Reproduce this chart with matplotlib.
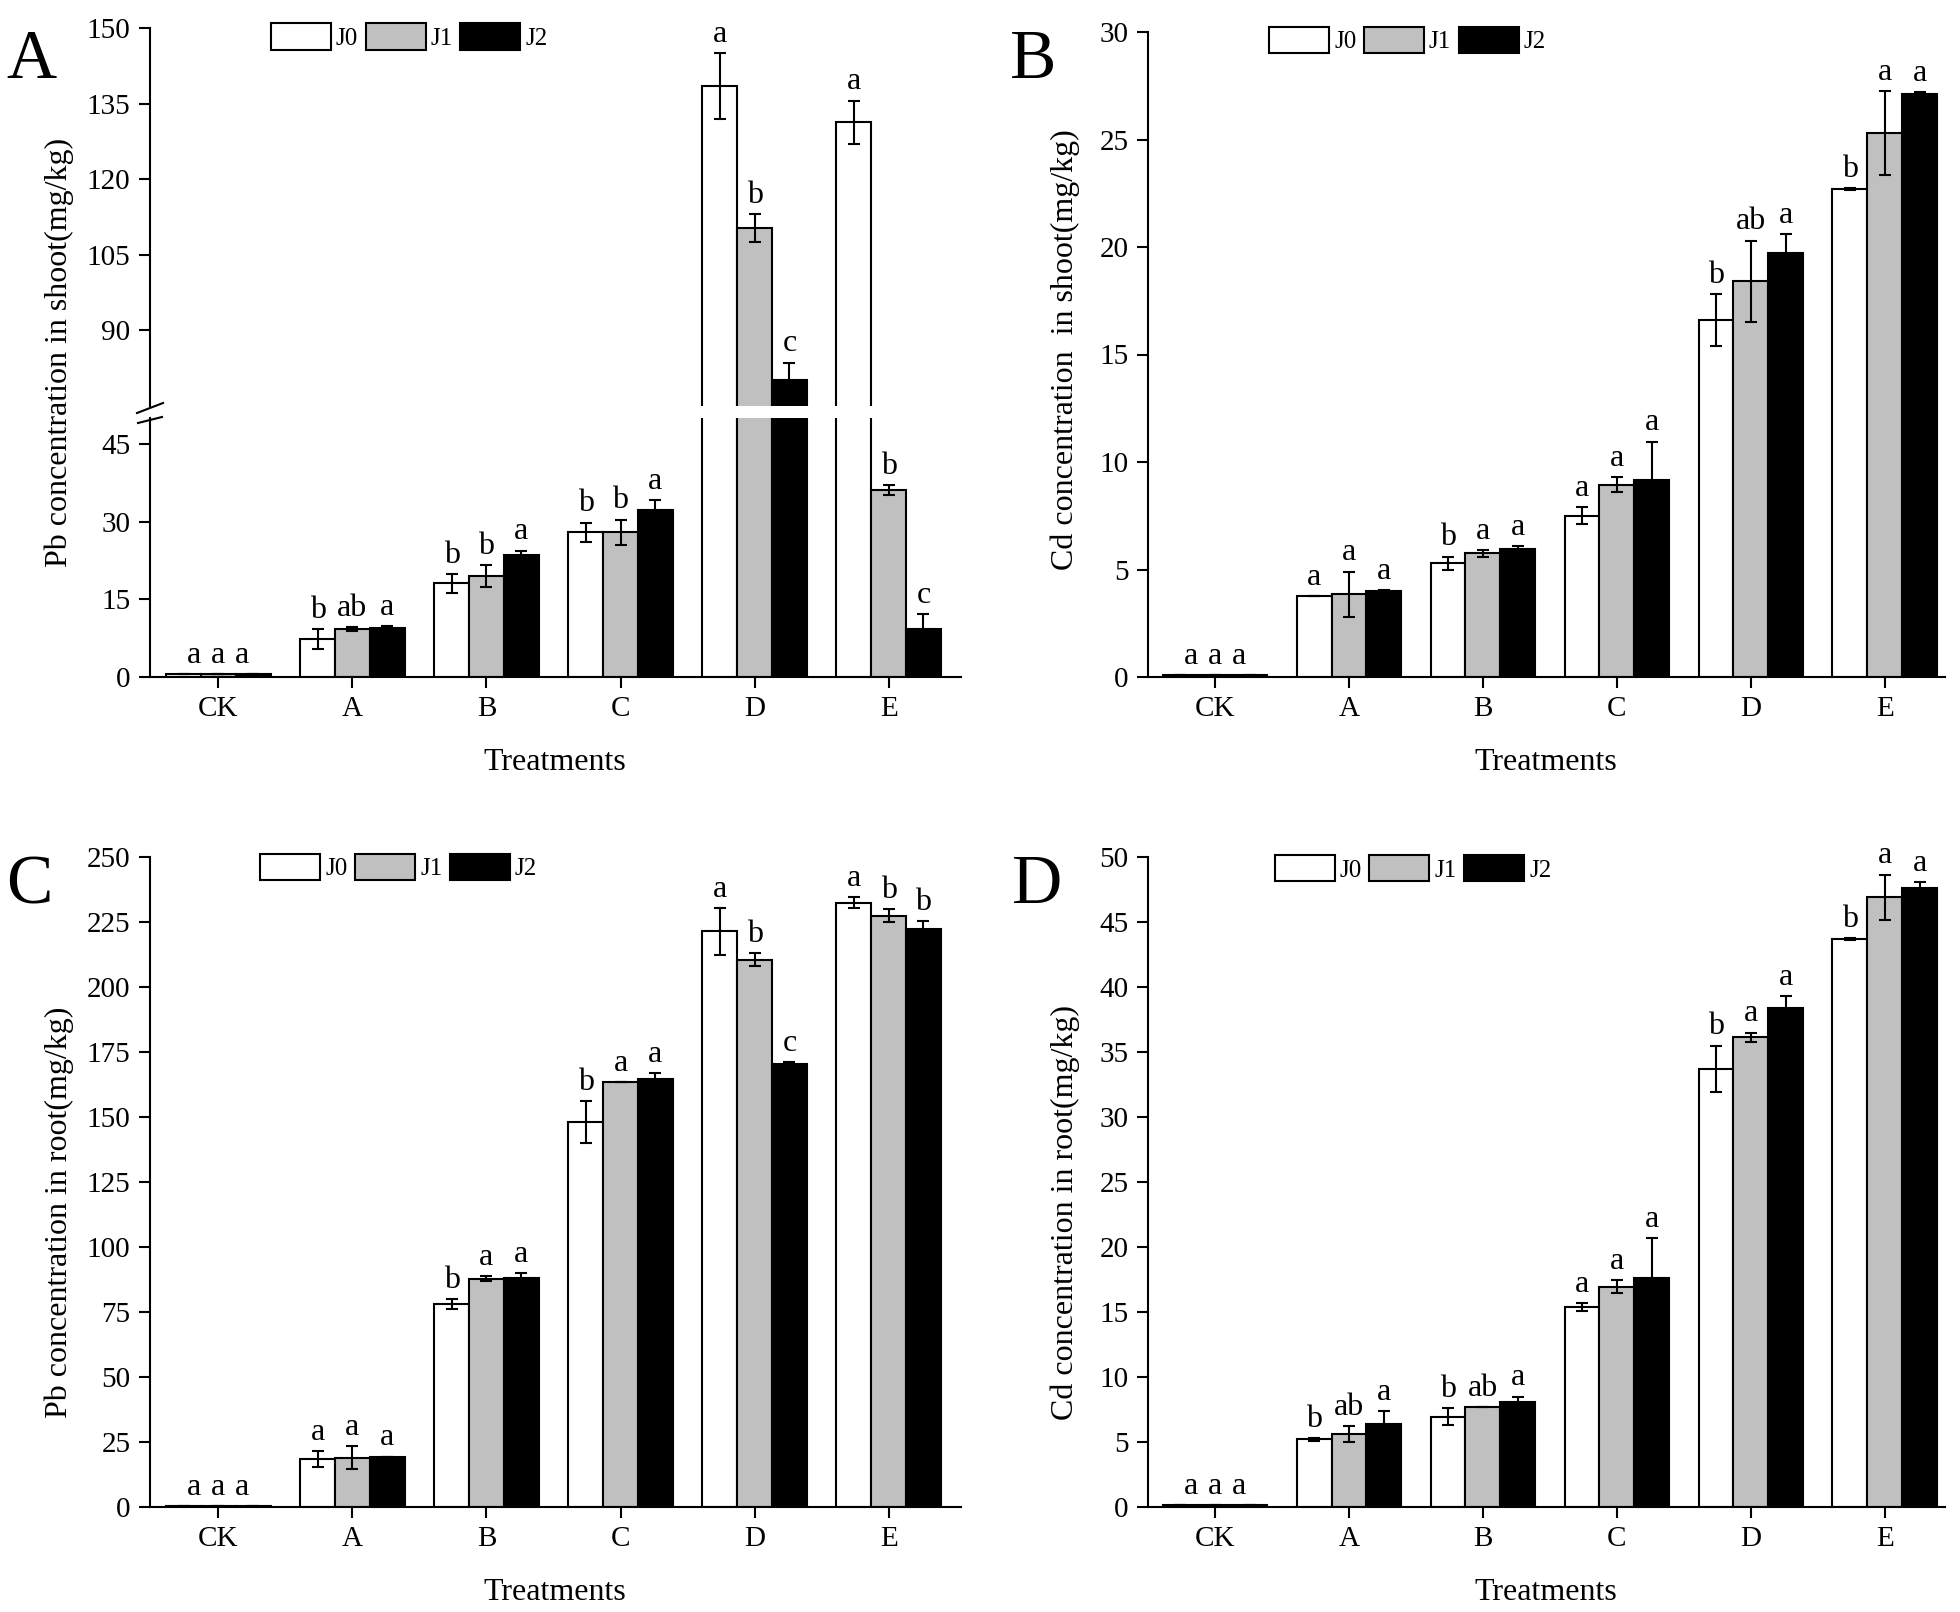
import numpy as np
import matplotlib.pyplot as plt
from matplotlib.patches import Patch
from matplotlib.lines import Line2D

plt.rcParams['font.family'] = ['Liberation Serif', 'DejaVu Serif']

treatments = ['CK', 'A', 'B', 'C', 'D', 'E']
groups = ['J0', 'J1', 'J2']
colors = ['white', '#c0c0c0', 'black']

# Pb concentration in shoot (A)
pb_shoot_mean = [[0.5, 7.4, 18.1, 27.9, 138.5, 131.3],
                 [0.5, 9.2, 19.5, 27.9, 110.3, 36.1],
                 [0.5, 9.5, 23.5, 32.3, 80.2, 9.3]]
pb_shoot_err = [[0, 1.9, 1.8, 1.9, 6.6, 4.3],
                [0, 0.4, 2.1, 2.5, 2.8, 0.9],
                [0, 0.3, 0.9, 1.9, 3.4, 2.9]]
pb_shoot_sig = [['a', 'b', 'b', 'b', 'a', 'a'],
                ['a', 'ab', 'b', 'b', 'b', 'b'],
                ['a', 'a', 'a', 'a', 'c', 'c']]

# Cd concentration in shoot (B)
cd_shoot_mean = [[0.1, 3.75, 5.3, 7.5, 16.6, 22.7],
                 [0.1, 3.85, 5.75, 8.95, 18.4, 25.3],
                 [0.1, 4.0, 5.95, 9.15, 19.7, 27.1]]
cd_shoot_err = [[0, 0, 0.3, 0.4, 1.2, 0.05],
                [0, 1.05, 0.15, 0.35, 1.9, 1.95],
                [0, 0.05, 0.15, 1.8, 0.9, 0.1]]
cd_shoot_sig = [['a', 'a', 'b', 'a', 'b', 'b'],
                ['a', 'a', 'a', 'a', 'ab', 'a'],
                ['a', 'a', 'a', 'a', 'a', 'a']]

# Pb concentration in root (C)
pb_root_mean = [[0.5, 18.4, 78.0, 148.0, 221.5, 232.5],
                [0.5, 19.0, 87.8, 163.5, 210.5, 227.5],
                [0.5, 19.4, 88.0, 164.8, 170.5, 222.5]]
pb_root_err = [[0, 3.0, 2.0, 8.0, 9.0, 2.0],
               [0, 4.3, 1.0, 0, 2.5, 2.5],
               [0, 0, 2.0, 2.0, 0.7, 3.0]]
pb_root_sig = [['a', 'a', 'b', 'b', 'a', 'a'],
               ['a', 'a', 'a', 'a', 'b', 'b'],
               ['a', 'a', 'a', 'a', 'c', 'b']]

# Cd concentration in root (D)
cd_root_mean = [[0.15, 5.2, 6.95, 15.4, 33.7, 43.7],
                [0.15, 5.6, 7.7, 16.95, 36.15, 46.9],
                [0.15, 6.35, 8.05, 17.6, 38.35, 47.6]]
cd_root_err = [[0, 0.1, 0.65, 0.3, 1.8, 0.05],
               [0, 0.6, 0, 0.5, 0.35, 1.75],
               [0, 1.0, 0.45, 3.1, 0.95, 0.45]]
cd_root_sig = [['a', 'b', 'b', 'a', 'b', 'b'],
               ['a', 'ab', 'ab', 'a', 'a', 'a'],
               ['a', 'a', 'a', 'a', 'a', 'a']]

W, H = 1960, 1612
width = 0.26
x = np.arange(len(treatments))


def box(x0, y0, x1, y1):
    # pixel box -> figure fraction
    return [x0 / W, 1 - y1 / H, (x1 - x0) / W, (y1 - y0) / H]


def draw_bars(ax, means, errs):
    for i in range(3):
        xs = x + (i - 1) * width
        ax.bar(xs, means[i], width, color=colors[i], edgecolor='black', linewidth=1.5, zorder=2)
        ax.errorbar(xs, means[i], yerr=errs[i], fmt='none', ecolor='black',
                    elinewidth=1.5, capsize=4, capthick=1.5, zorder=3)


def draw_letters(ax, means, errs, sig, limit=None, ax_hi=None):
    for i in range(3):
        for j in range(len(treatments)):
            top = means[i][j] + errs[i][j]
            target = ax
            if limit is not None and top > limit:
                target = ax_hi
            # the CK letters sit closer together in the original
            step = 0.18 if j == 0 else width
            target.annotate(sig[i][j], (x[j] + (i - 1) * step, top), xytext=(0, 3),
                            textcoords='offset points', ha='center', va='bottom', fontsize=23)


def style(ax, ylim, yticks, xlim):
    ax.set_ylim(ylim)
    ax.set_yticks(yticks)
    ax.set_xlim(xlim)
    ax.set_xticks(x)
    ax.set_xticklabels(treatments)
    for s in ['top', 'right']:
        ax.spines[s].set_visible(False)
    for s in ['left', 'bottom']:
        ax.spines[s].set_linewidth(1.5)
    ax.tick_params(direction='out', length=8, width=1.5, labelsize=21, pad=6)


def add_legend(ax, bx, by):
    handles = [Patch(facecolor=c, edgecolor='black', linewidth=1.5) for c in colors]
    ax.legend(handles, groups, loc='upper left', bbox_to_anchor=(bx, by), ncol=3,
              frameon=False, fontsize=18, handlelength=2.4, handleheight=1.25,
              handletextpad=0.2, columnspacing=0.3, borderpad=0, borderaxespad=0)


fig = plt.figure(figsize=(W / 100, H / 100), dpi=100)

# A: broken axis
ax_a_lo = fig.add_axes(box(150, 418, 961, 677))
ax_a_hi = fig.add_axes(box(150, 28, 961, 406))
for ax in [ax_a_lo, ax_a_hi]:
    draw_bars(ax, pb_shoot_mean, pb_shoot_err)
style(ax_a_lo, (0, 50), [0, 15, 30, 45], (-0.51, 5.54))
style(ax_a_hi, (75, 150), [90, 105, 120, 135, 150], (-0.51, 5.54))
ax_a_hi.spines['bottom'].set_visible(False)
ax_a_hi.tick_params(axis='x', bottom=False, labelbottom=False)
draw_letters(ax_a_lo, pb_shoot_mean, pb_shoot_err, pb_shoot_sig, limit=48, ax_hi=ax_a_hi)
add_legend(ax_a_hi, 0.149, 1.013)
for (x0, y0, x1, y1) in [(137, 413, 163, 403), (138, 423, 162, 417)]:
    fig.add_artist(Line2D([x0 / W, x1 / W], [1 - y0 / H, 1 - y1 / H],
                          transform=fig.transFigure, color='black', linewidth=1.5))

# B
ax_b = fig.add_axes(box(1148, 32, 1945, 677))
draw_bars(ax_b, cd_shoot_mean, cd_shoot_err)
style(ax_b, (0, 30), [0, 5, 10, 15, 20, 25, 30], (-0.5, 5.45))
draw_letters(ax_b, cd_shoot_mean, cd_shoot_err, cd_shoot_sig)
add_legend(ax_b, 0.152, 1.008)

# C
ax_c = fig.add_axes(box(150, 857, 961, 1507))
draw_bars(ax_c, pb_root_mean, pb_root_err)
style(ax_c, (0, 250), np.arange(0, 251, 25), (-0.51, 5.54))
draw_letters(ax_c, pb_root_mean, pb_root_err, pb_root_sig)
add_legend(ax_c, 0.136, 1.005)

# D
ax_d = fig.add_axes(box(1148, 857, 1945, 1507))
draw_bars(ax_d, cd_root_mean, cd_root_err)
style(ax_d, (0, 50), np.arange(0, 51, 5), (-0.5, 5.45))
draw_letters(ax_d, cd_root_mean, cd_root_err, cd_root_sig)
add_legend(ax_d, 0.159, 1.003)

# axis titles
ylabels = [(59, 352, 'Pb concentration in shoot(mg/kg)'),
           (1065, 350, 'Cd concentration  in shoot(mg/kg)'),
           (59, 1212, 'Pb concentration in root(mg/kg)'),
           (1065, 1212, 'Cd concentration in root(mg/kg)')]
for px, py, t in ylabels:
    fig.text(px / W, 1 - py / H, t, rotation=90, ha='center', va='center', fontsize=23)

for px, py in [(555, 762), (1546, 762), (555, 1593), (1546, 1593)]:
    fig.text(px / W, 1 - py / H, 'Treatments', ha='center', va='center', fontsize=23)

for px, py, t in [(6, 78, 'A'), (1010, 78, 'B'), (6, 903, 'C'), (1012, 903, 'D')]:
    fig.text(px / W, 1 - py / H, t, ha='left', va='baseline', fontsize=50)

fig.savefig('out.png', dpi=100)
